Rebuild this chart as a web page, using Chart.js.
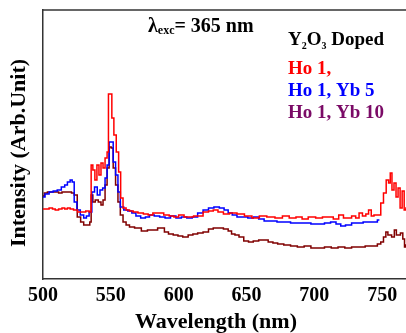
<!DOCTYPE html>
<html>
<head>
<meta charset="utf-8">
<script src="https://cdn.jsdelivr.net/npm/chart.js@4.4.1/dist/chart.umd.min.js"></script>
<style>
  html, body { margin: 0; padding: 0; background: #fff; }
  #wrap { width: 406px; height: 333px; position: relative; }
</style>
</head>
<body>
<div id="wrap"><canvas id="myChart"></canvas></div>
<script>
// Wavelength (nm) and intensity (arb. units)
const wavelengthHo1 = [500, 503, 506, 508, 510, 513, 515, 517, 519, 521, 524, 527, 530, 533, 535, 536, 537.5, 539, 540.5, 542, 543.5, 545, 546.5, 548, 548.5, 550, 551.5, 553, 555, 556.5, 558, 560, 562.5, 565, 568, 572, 576, 579, 583, 587, 591, 595, 598, 602, 606, 609, 613, 616, 620, 624, 627, 631, 635, 640, 646, 651, 657, 662, 668, 674, 679, 684, 689, 693, 698, 704, 708, 712, 716, 720, 723, 726, 729, 732, 734, 737, 739, 741, 743, 745, 748, 750, 752, 754, 755.5, 756.5, 758, 759.5, 761, 762.5, 764, 765.5, 767, 768];
const intensityHo1 = [70, 70, 71, 70, 69, 70, 71, 70, 71, 70, 69, 67, 67, 68, 67, 114, 109, 99, 114, 104, 116, 111, 121, 127, 185, 185, 161, 144, 127, 107, 81, 71, 69, 68, 67, 66, 65, 64, 66, 66, 64, 63, 62, 64, 62, 62, 63, 63, 67, 68, 69, 67, 65, 66, 65, 63, 61, 63, 62, 61, 63, 61, 62, 60, 62, 61, 62, 62, 60, 64, 61, 61, 63, 61, 66, 63, 65, 69, 63, 64, 64, 76, 86, 99, 96, 106, 89, 96, 82, 91, 71, 88, 69, 71];

const wavelengthYb5 = [500, 503, 506, 509, 512, 515, 517, 519, 521, 522, 524, 526, 529, 531, 533, 535, 537, 539, 541, 543, 545, 546.5, 548, 549.5, 551, 552.5, 554.5, 556, 558, 561, 564, 567, 570, 574, 577, 580, 584, 588, 592, 596, 600, 604, 608, 612, 616, 620, 624, 628, 632, 635, 638, 641, 645, 649, 653, 657, 661, 665, 670, 675, 680, 685, 690, 695, 700, 705, 710, 714, 718, 721, 725, 730, 734, 738, 742, 745, 748];
const intensityYb5 = [82, 85, 87, 88, 89, 92, 94, 97, 99, 97, 77, 69, 64, 61, 63, 67, 87, 92, 84, 89, 91, 101, 114, 137, 137, 117, 104, 87, 72, 69, 68, 66, 63, 61, 62, 64, 63, 62, 61, 63, 61, 62, 61, 62, 66, 69, 71, 72, 71, 69, 66, 64, 62, 62, 61, 62, 60, 58, 58, 57, 57, 56, 56, 56, 55, 55, 56, 57, 55, 53, 54, 56, 56, 57, 57, 57, 59];

const wavelengthYb10 = [500, 502, 504.5, 507, 510, 513, 515, 517, 520, 522, 524, 526.5, 529, 531, 534, 535, 536, 537.5, 539.5, 542, 543.5, 545, 546.5, 548, 549.5, 551, 552.5, 554.5, 556, 558, 560, 562.5, 565, 570, 575, 579, 583, 586, 588, 591, 594, 598, 601, 605, 609, 612, 616, 620, 624, 627, 631, 635, 638, 640, 643, 646, 650, 653, 657, 661, 664, 668, 671, 675, 680, 685, 690, 695, 700, 705, 710, 715, 720, 725, 730, 735, 740, 745, 748, 750, 752, 753.5, 755, 756, 758, 760, 761, 762.5, 764.5, 766, 767, 768];
const intensityYb10 = [83, 86, 87, 87, 87, 86, 87, 87, 87, 86, 84, 62, 57, 54, 54, 57, 84, 77, 79, 77, 74, 79, 94, 111, 132, 131, 111, 94, 77, 64, 57, 54, 52, 51, 48, 49, 49, 51, 51, 47, 45, 44, 43, 42, 44, 45, 46, 47, 50, 51, 51, 50, 48, 45, 44, 42, 38, 37, 38, 39, 39, 37, 36, 35, 34, 33, 32, 33, 31, 31, 32, 31, 32, 31, 32, 32, 33, 33, 35, 37, 42, 47, 44, 44, 42, 49, 44, 44, 46, 40, 32, 34];

// Tick labels on the wavelength axis
const tickValues = [500, 550, 600, 650, 700, 750];

// Legend entries (text drawn in the top right corner)
const seriesNames = ['Ho 1,', 'Ho 1, Yb 5', 'Ho 1, Yb 10'];
const lineColors = ['#ff0000', '#0000ff', '#800000'];
const legendColors = ['#ff0000', '#0000ff', '#7a0a66'];

const serif = '"Liberation Serif", "Times New Roman", serif';

function toPoints(xs, ys) {
    return xs.map((x, i) => ({ x: x, y: ys[i] }));
}

// draw a run of text pieces (used for subscripts)
function drawParts(ctx, x, y, parts) {
    parts.forEach(p => {
        ctx.font = 'bold ' + p[1] + 'px ' + serif;
        ctx.fillText(p[0], x, y + (p[2] || 0));
        x += ctx.measureText(p[0]).width;
    });
}

// Annotations, axis titles and the top frame line
const textPlugin = {
    id: 'textPlugin',
    afterDraw(chart) {
        const ctx = chart.ctx;
        const area = chart.chartArea;
        ctx.save();

        // top border of the frame
        ctx.strokeStyle = '#333';
        ctx.lineWidth = 1.5;
        ctx.beginPath();
        ctx.moveTo(area.left - 0.75, area.top);
        ctx.lineTo(area.right, area.top);
        ctx.stroke();

        ctx.fillStyle = '#000';
        ctx.textBaseline = 'alphabetic';
        ctx.textAlign = 'left';

        // excitation wavelength
        drawParts(ctx, 148, 32, [['\u03bb', 20], ['exc', 12, 2], ['= 365 nm', 20]]);

        // legend
        drawParts(ctx, 288, 45, [['Y', 19], ['2', 10, 4], ['O', 19], ['3', 10, 4], [' Doped', 19]]);
        ctx.font = 'bold 19px ' + serif;
        seriesNames.forEach((name, i) => {
            ctx.fillStyle = legendColors[i];
            ctx.fillText(name, 288, 74 + i * 22);
        });

        // axis titles
        ctx.fillStyle = '#000';
        ctx.font = 'bold 22px ' + serif;
        ctx.textAlign = 'center';
        ctx.textBaseline = 'middle';
        ctx.fillText('Wavelength (nm)', 216, 322);

        ctx.translate(19, 153);
        ctx.rotate(-Math.PI / 2);
        ctx.fillText('Intensity (Arb.Unit)', 0, 0);
        ctx.restore();
    }
};

document.addEventListener('DOMContentLoaded', function() {
    const data = {
        datasets: [
            { label: seriesNames[0], data: toPoints(wavelengthHo1, intensityHo1) },
            { label: seriesNames[1], data: toPoints(wavelengthYb5, intensityYb5) },
            { label: seriesNames[2], data: toPoints(wavelengthYb10, intensityYb10) }
        ].map((ds, i) => Object.assign(ds, {
            borderColor: lineColors[i],
            borderWidth: 1.5,
            pointRadius: 0,
            stepped: 'middle', // spectra look step-like in the original
            fill: false
        }))
    };

    const config = {
        type: 'line',
        data: data,
        options: {
            responsive: true,
            maintainAspectRatio: false,
            animation: false,
            layout: { padding: { top: 10, left: 0, right: 0, bottom: 0 } },
            plugins: {
                legend: { display: false },
                tooltip: { enabled: false }
            },
            scales: {
                x: {
                    type: 'linear',
                    min: 500,
                    max: 767.6,
                    afterBuildTicks: scale => { scale.ticks = tickValues.map(v => ({ value: v })); },
                    afterFit: scale => { scale.height = 54; },
                    grid: { display: false, drawTicks: false },
                    border: { display: true, color: '#333', width: 1.5 },
                    ticks: {
                        color: '#000',
                        padding: 5,
                        maxRotation: 0,
                        font: { family: serif, size: 20, weight: 'bold' }
                    }
                },
                y: {
                    min: 0,
                    max: 269,
                    afterFit: scale => { scale.width = 43; },
                    grid: { display: false, drawTicks: false },
                    border: { display: true, color: '#333', width: 1.5 },
                    ticks: { display: false }
                }
            }
        },
        plugins: [textPlugin]
    };

    new Chart(document.getElementById('myChart'), config);
});
</script>
</body>
</html>
